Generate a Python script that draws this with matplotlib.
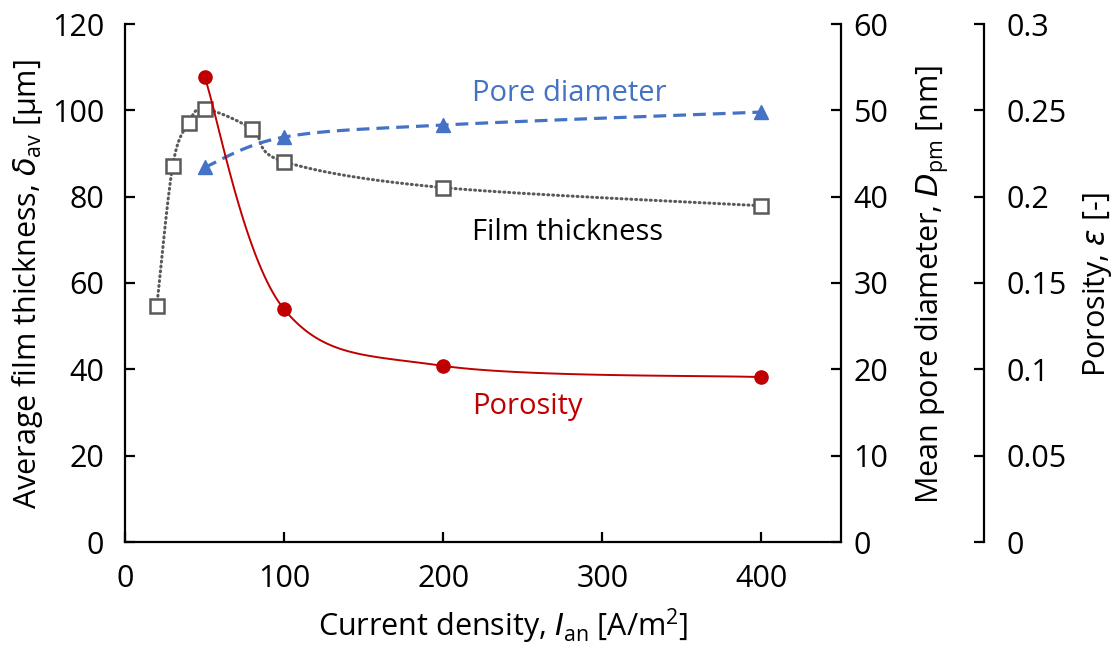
import numpy as np
import matplotlib
matplotlib.use("Agg")
import matplotlib.pyplot as plt

# current density [A/m2] and measured values
x_thick = [20, 30, 40, 50, 80, 100, 200, 400]
thickness = [54.7, 87.2, 97.1, 100.3, 95.6, 88.1, 82.1, 77.9]      # um

x_pore = [50, 100, 200, 400]
pore_diam = [43.4, 46.9, 48.3, 49.8]                                  # nm

x_poro = [50, 100, 200, 400]
porosity = [0.2695, 0.1348, 0.102, 0.0955]                            # -

plt.rcParams['font.family'] = ['Open Sans', 'DejaVu Sans']
plt.rcParams['mathtext.fontset'] = 'custom'
plt.rcParams['mathtext.rm'] = 'Open Sans'
plt.rcParams['mathtext.it'] = 'DejaVu Sans:italic'

FS = 22
RED = '#C00000'
BLUE = '#4472C4'
GRAY = '#595959'


def smooth(xs, ys, xspan, yspan, n=40):
    # bezier smoothing like a spreadsheet "smoothed line", done in scaled units
    px = np.asarray(xs, float) / xspan
    py = np.asarray(ys, float) / yspan
    pts = np.column_stack([px, py])
    out = [pts[0]]
    for i in range(len(pts) - 1):
        p0 = pts[i - 1] if i > 0 else pts[i]
        p1 = pts[i]
        p2 = pts[i + 1]
        p3 = pts[i + 2] if i + 2 < len(pts) else pts[i + 1]
        c1 = p1 + (p2 - p0) / 6.0
        c2 = p2 - (p3 - p1) / 6.0
        t = np.linspace(0, 1, n)[1:, None]
        seg = ((1 - t) ** 3) * p1 + 3 * ((1 - t) ** 2) * t * c1 + 3 * (1 - t) * t ** 2 * c2 + t ** 3 * p2
        out.extend(seg)
    out = np.array(out)
    return out[:, 0] * xspan, out[:, 1] * yspan


W, H = 1116, 648
fig = plt.figure(figsize=(W / 100, H / 100), dpi=100)
ax = fig.add_axes([125 / W, 1 - 542 / H, 716 / W, 518 / H])
ax2 = ax.twinx()
ax3 = ax.twinx()

# axis size in pixels, so the smoothing follows the drawn shape
XW, YH = 716.0, 518.0

sx, sy = smooth(x_thick, thickness, 450 / XW, 120 / YH)
ax.plot(sx, sy, color=GRAY, lw=2.2, linestyle=(0, (0.3, 1.3)), dash_capstyle='round', zorder=2)
ax.plot(x_thick, thickness, linestyle='none', marker='s', ms=10.5, mfc='white', mec=GRAY, mew=1.8, zorder=3)

sx, sy = smooth(x_poro, porosity, 450 / XW, 0.3 / YH)
ax3.plot(sx, sy, color=RED, lw=1.4, zorder=2)
ax3.plot(x_poro, porosity, linestyle='none', marker='o', ms=9.5, color=RED, zorder=3)

sx, sy = smooth(x_pore, pore_diam, 450 / XW, 60 / YH)
ax2.plot(sx, sy, color=BLUE, lw=2.3, linestyle=(0, (4, 2.2)), zorder=2)
ax2.plot(x_pore, pore_diam, linestyle='none', marker='^', ms=10.5, color=BLUE, zorder=3)

ax.set_xlim(0, 450)
ax.set_ylim(0, 120)
ax2.set_ylim(0, 60)
ax3.set_ylim(0, 0.3)

ax.set_xticks([0, 100, 200, 300, 400])
ax.set_yticks(np.arange(0, 121, 20))
ax2.set_yticks(np.arange(0, 61, 10))
ax3.set_yticks([0, 0.05, 0.1, 0.15, 0.2, 0.25, 0.3])
ax3.set_yticklabels(['0', '0.05', '0.1', '0.15', '0.2', '0.25', '0.3'])

for a in (ax, ax2, ax3):
    a.spines['top'].set_visible(False)
    for s in a.spines.values():
        s.set_linewidth(1.6)
    a.tick_params(direction='in', length=7, width=1.6, labelsize=FS)

ax.spines['right'].set_visible(False)
ax2.spines['left'].set_visible(False)
ax3.spines['left'].set_visible(False)
ax3.spines['bottom'].set_visible(False)
ax2.spines['bottom'].set_visible(False)
ax3.spines['right'].set_position(('outward', 103))

ax.tick_params(axis='x', pad=16)
ax.tick_params(axis='y', pad=15)
ax2.tick_params(axis='y', pad=9)
ax3.tick_params(axis='y', pad=16)

# axis titles placed by pixel centre
fig.text(503 / W, 1 - 626 / H, r'Current density, $I_{\mathrm{an}}$ [A/m$^{2}$]',
         fontsize=FS, ha='center', va='center')
fig.text(28 / W, 1 - 284 / H, r'Average film thickness, $\mathit{\delta}_{\mathrm{av}}$ [µm]',
         fontsize=FS, ha='center', va='center', rotation=90)
fig.text(932 / W, 1 - 284 / H, r'Mean pore diameter, $D_{\mathrm{pm}}$ [nm]',
         fontsize=FS, ha='center', va='center', rotation=90)
fig.text(1097 / W, 1 - 284 / H, r'Porosity, $\mathit{\varepsilon}$ [-]',
         fontsize=FS, ha='center', va='center', rotation=90)

ax.text(218, 103.8, 'Pore diameter', color=BLUE, fontsize=21, va='center', ha='left')
ax.text(218, 71.8, 'Film thickness', color='black', fontsize=21, va='center', ha='left')
ax.text(218, 31.3, 'Porosity', color=RED, fontsize=21, va='center', ha='left')

fig.savefig('out.png', dpi=100)
